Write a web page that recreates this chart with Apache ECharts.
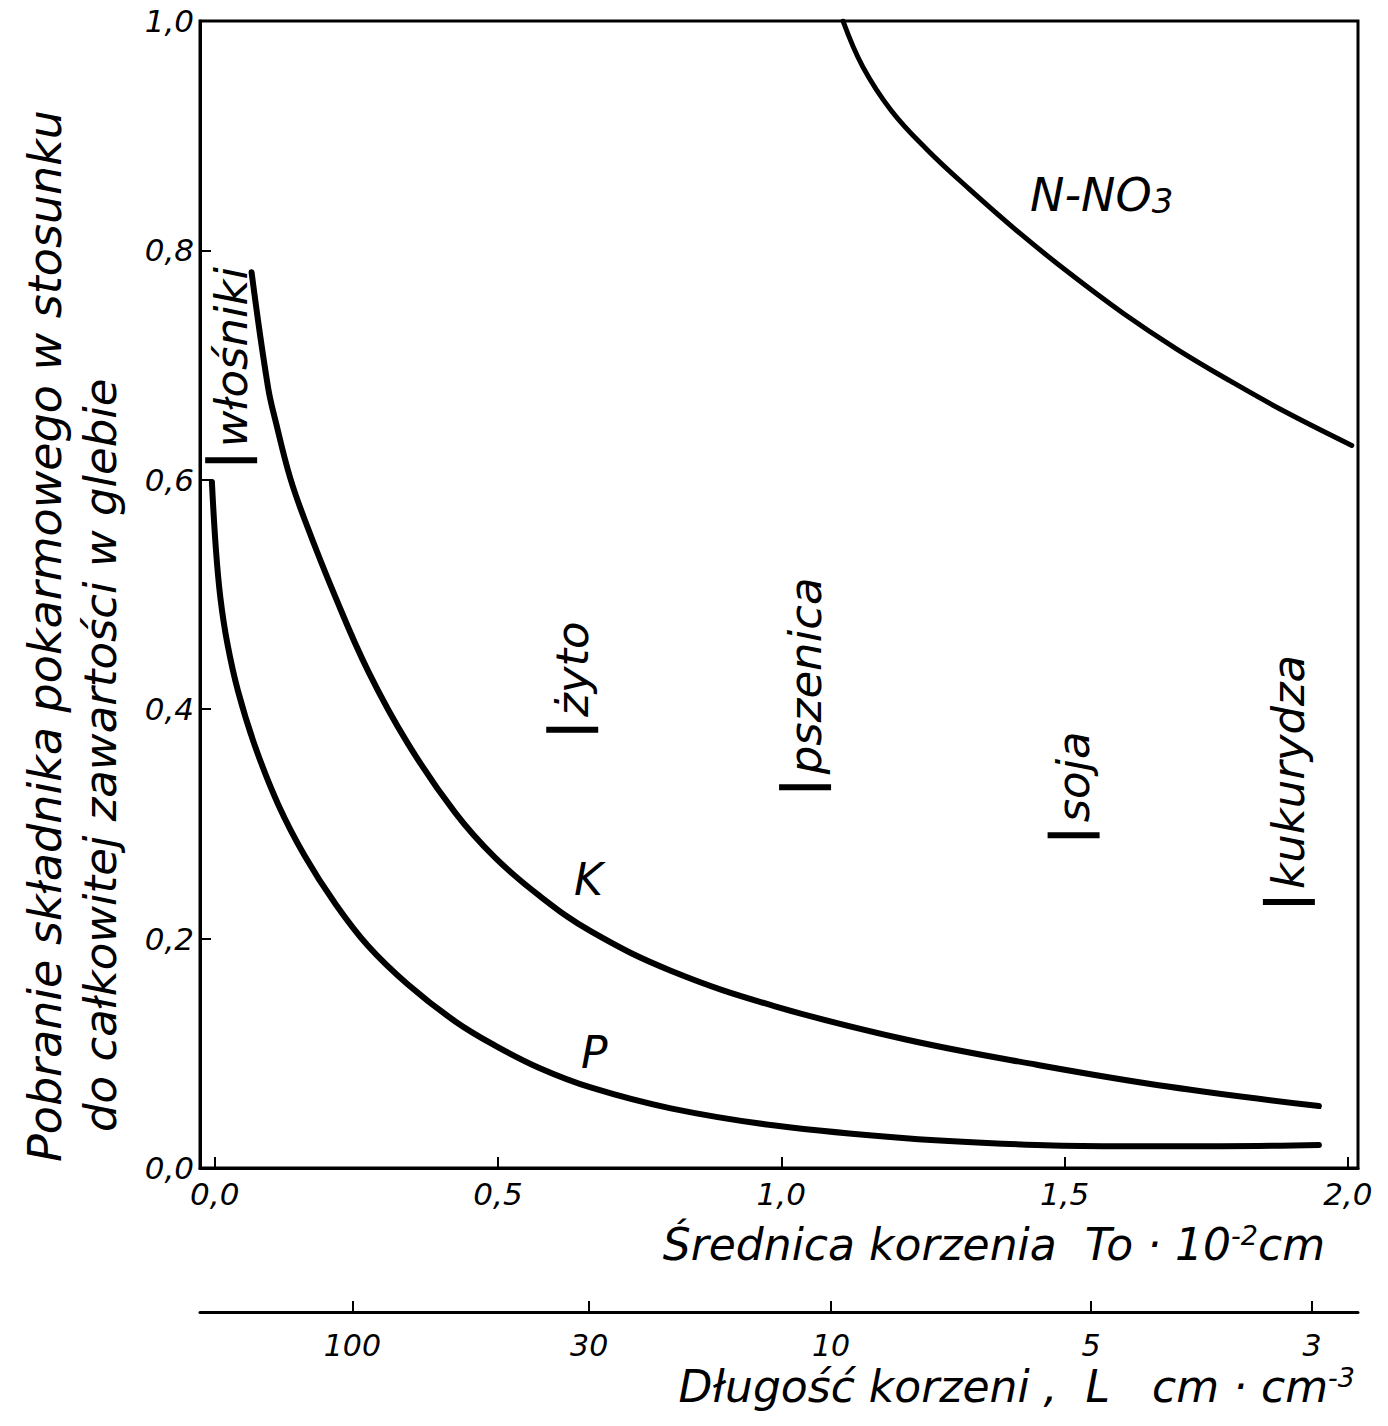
<!DOCTYPE html>
<html><head><meta charset="utf-8">
<script src="https://cdn.jsdelivr.net/npm/echarts@6/dist/echarts.min.js"></script>
<style>html,body{margin:0;padding:0;background:#fff}#c{width:1388px;height:1426px}</style>
</head><body><div id="c"></div>
<script>
// Root diameter (To, 10^-2 cm) and uptake fraction
const pDiam   = [-0.005, 0.002, 0.010, 0.022, 0.041, 0.071, 0.112, 0.159, 0.212, 0.270, 0.341, 0.424, 0.494, 0.574, 0.665, 0.805, 0.989, 1.220, 1.451, 1.589, 1.774, 1.949];
const pUptake = [0.598, 0.540, 0.497, 0.458, 0.416, 0.368, 0.317, 0.272, 0.231, 0.194, 0.160, 0.128, 0.107, 0.087, 0.070, 0.052, 0.037, 0.026, 0.020, 0.019, 0.019, 0.020];

const kDiam   = [0.065, 0.094, 0.109, 0.133, 0.159, 0.212, 0.271, 0.341, 0.424, 0.494, 0.574, 0.665, 0.805, 0.989, 1.220, 1.451, 1.682, 1.949];
const kUptake = [0.781, 0.681, 0.648, 0.602, 0.565, 0.499, 0.433, 0.370, 0.310, 0.271, 0.237, 0.206, 0.172, 0.141, 0.112, 0.090, 0.071, 0.054];

const nDiam   = [1.109, 1.144, 1.194, 1.257, 1.333, 1.421, 1.509, 1.604, 1.698, 1.793, 1.887, 2.007];
const nUptake = [1.000, 0.960, 0.922, 0.888, 0.853, 0.815, 0.780, 0.745, 0.714, 0.686, 0.660, 0.630];

// Crop root diameters (markers) and the height at which they are drawn
const cropNames = ['włośniki', 'żyto', 'pszenica', 'soja', 'kukurydza'];
const cropDiam  = [0.029, 0.631, 1.042, 1.516, 1.896];
const cropLevel = [0.617, 0.382, 0.332, 0.290, 0.232];

// Axis ticks
const diamTicks = [0, 0.5, 1.0, 1.5, 2.0];
const diamTickLabels = ['0,0', '0,5', '1,0', '1,5', '2,0'];
const uptakeTicks = [0, 0.2, 0.4, 0.6, 0.8, 1.0];
const uptakeTickLabels = ['0,0', '0,2', '0,4', '0,6', '0,8', '1,0'];
// Root length scale (L, cm·cm^-3) expressed at its diameter positions
const lengthLabels = ['100', '30', '10', '5', '3'];
const lengthTickDiam = [0.243, 0.661, 1.088, 1.547, 1.937];

const FONT = 'DejaVu Sans';
const pairs = (xs, ys) => xs.map((x, i) => [x, ys[i]]);
const pick = (ticks, labels) => v => { const i = ticks.findIndex(t => Math.abs(t - v) < 1e-6); return i < 0 ? '' : labels[i]; };

const chart = echarts.init(document.getElementById('c'), null, {renderer: 'svg'});
const txt = (size) => ({fontFamily: FONT, fontStyle: 'italic', fontSize: size, color: '#000'});

const lineSeries = (name, xs, ys, w) => ({
  name, type: 'line', data: pairs(xs, ys), smooth: 0.4, symbol: 'none', silent: true,
  lineStyle: {color: '#000', width: w, cap: 'round', join: 'round'}
});

const option = {
  animation: false,
  backgroundColor: '#fff',
  grid: {left: 200, right: 30, top: 21, bottom: 258, show: true, borderColor: '#000', borderWidth: 3},
  xAxis: [
    {
      type: 'value', min: -0.026, max: 2.018, position: 'bottom',
      axisLine: {show: true, onZero: false, lineStyle: {color: '#000', width: 3}},
      axisTick: {show: true, inside: true, length: 11, lineStyle: {color: '#000', width: 2}, customValues: diamTicks},
      axisLabel: Object.assign(txt(31), {customValues: diamTicks, margin: 10, formatter: pick(diamTicks, diamTickLabels)}),
      splitLine: {show: false},
      name: '{t|Średnica korzenia  To · 10}{s|-2}{t|cm}',
      nameLocation: 'end', nameGap: -33,
      nameTextStyle: {align: 'right', verticalAlign: 'top', padding: [54, 0, 0, 0],
        rich: {t: txt(44), s: Object.assign(txt(27), {verticalAlign: 'top'})}}
    },
    {
      type: 'value', min: -0.026, max: 2.018, position: 'bottom', offset: 144,
      axisLine: {show: true, onZero: false, lineStyle: {color: '#000', width: 3}},
      axisTick: {show: true, inside: true, length: 11, lineStyle: {color: '#000', width: 2}, customValues: lengthTickDiam},
      axisLabel: Object.assign(txt(30), {customValues: lengthTickDiam, margin: 18, formatter: pick(lengthTickDiam, lengthLabels)}),
      splitLine: {show: false},
      name: '{t|Długość korzeni ,  L   cm · cm}{s|-3}',
      nameLocation: 'end', nameGap: -3,
      nameTextStyle: {align: 'right', verticalAlign: 'top', padding: [52, 0, 0, 0],
        rich: {t: txt(44), s: Object.assign(txt(27), {verticalAlign: 'top'})}}
    }
  ],
  yAxis: {
    type: 'value', min: 0, max: 1, interval: 0.2,
    axisLine: {show: true, onZero: false, lineStyle: {color: '#000', width: 3}},
    axisTick: {show: true, inside: true, length: 11, lineStyle: {color: '#000', width: 2}},
    axisLabel: Object.assign(txt(31), {margin: 6, formatter: pick(uptakeTicks, uptakeTickLabels)}),
    splitLine: {show: false}
  },
  series: [
    lineSeries('P', pDiam, pUptake, 6),
    lineSeries('K', kDiam, kUptake, 6),
    lineSeries('N-NO3', nDiam, nUptake, 5),
    {name: 'uprawy', type: 'scatter', data: pairs(cropDiam, cropLevel), symbol: 'rect', symbolSize: [52, 6], silent: true,
     itemStyle: {color: '#000', opacity: 1},
     label: Object.assign(txt(45), {show: true, opacity: 1, position: 'top', distance: 10, rotate: 90, align: 'left', verticalAlign: 'middle',
       formatter: p => cropNames[p.dataIndex]})}
  ],
  graphic: [
    {type: 'text', x: 45, y: 1162, rotation: Math.PI / 2, silent: true,
     style: {text: 'Pobranie składnika pokarmowego w stosunku', font: 'italic 46px "DejaVu Sans"', fill: '#000', align: 'left', verticalAlign: 'middle'}},
    {type: 'text', x: 100, y: 1132, rotation: Math.PI / 2, silent: true,
     style: {text: 'do całkowitej zawartości w glebie', font: 'italic 45px "DejaVu Sans"', fill: '#000', align: 'left', verticalAlign: 'middle'}},
    {type: 'text', x: 1030, y: 195, silent: true,
     style: {text: '{a|N-NO}{b|3}', align: 'left', verticalAlign: 'middle',
       rich: {a: {font: 'italic 46px "DejaVu Sans"', fill: '#000'}, b: {font: 'italic 34px "DejaVu Sans"', fill: '#000', verticalAlign: 'bottom'}}}},
    {type: 'text', x: 574, y: 879, silent: true,
     style: {text: 'K', font: 'italic 44px "DejaVu Sans"', fill: '#000', align: 'left', verticalAlign: 'middle'}},
    {type: 'text', x: 581, y: 1052, silent: true,
     style: {text: 'P', font: 'italic 44px "DejaVu Sans"', fill: '#000', align: 'left', verticalAlign: 'middle'}}
  ]
};
chart.setOption(option);
</script></body></html>
